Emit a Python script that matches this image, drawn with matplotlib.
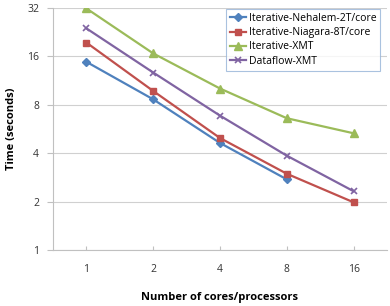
import numpy as np
import matplotlib.pyplot as plt

cores = ["1", "2", "4", "8", "16"]
nehalem = [14.8, 8.65, 4.63, 2.75]
niagara = [19.5, 9.75, 4.97, 2.98, 1.98]
xmt = [31.8, 16.7, 10.1, 6.6, 5.32]
dataflow = [23.9, 12.7, 6.85, 3.86, 2.32]
yticks = [1, 2, 4, 8, 16, 32]

plt.rcParams['font.family'] = ['Open Sans', 'DejaVu Sans']

fig = plt.figure(figsize=(3.9, 3.06), dpi=100)
ax = fig.add_axes([53 / 390, 56 / 306, 334 / 390, 242 / 306])

x = np.arange(len(cores))
ax.plot(x[:len(nehalem)], nehalem, color="#4F81BD", marker="D", markersize=4,
        linewidth=1.6, label="Iterative-Nehalem-2T/core")
ax.plot(x, niagara, color="#C0504D", marker="s", markersize=5,
        linewidth=1.6, label="Iterative-Niagara-8T/core")
ax.plot(x, xmt, color="#9BBB59", marker="^", markersize=5.5,
        linewidth=1.6, label="Iterative-XMT")
ax.plot(x, dataflow, color="#8064A2", marker="x", markersize=5,
        markeredgewidth=1.2, linewidth=1.6, label="Dataflow-XMT")

ax.set_yscale("log", base=2)
ax.set_ylim(1, 32)
ax.set_yticks(yticks)
ax.set_yticklabels([str(v) for v in yticks], fontsize=7.5, color="#333333")
ax.minorticks_off()
ax.set_xlim(-0.5, len(cores) - 0.5)
ax.set_xticks(x)
ax.set_xticklabels(cores, fontsize=7.5, color="#333333")

ax.grid(axis="y", color="#d0d0d0", linewidth=0.8)
ax.set_axisbelow(True)
for s in ["top", "right"]:
    ax.spines[s].set_visible(False)
for s in ["left", "bottom"]:
    ax.spines[s].set_color("#c0c0c0")
ax.tick_params(axis="y", length=4, color="#c0c0c0", pad=6)
ax.tick_params(axis="x", direction="in", length=3, color="#c0c0c0", pad=10)

ax.set_ylabel("Time (seconds)", fontsize=8, fontweight="bold")
ax.yaxis.set_label_coords(-0.108, 0.5)
ax.set_xlabel("Number of cores/processors", fontsize=8, fontweight="bold", labelpad=12)

leg = ax.legend(loc="upper right", bbox_to_anchor=(0.98, 0.996), fontsize=7.5,
                frameon=True, fancybox=False, handlelength=1.6, handletextpad=0.2,
                borderpad=0.4, labelspacing=0.3, borderaxespad=0.0)
leg.get_frame().set_edgecolor("#95B3D7")
leg.get_frame().set_linewidth(0.8)

fig.savefig("out.png", dpi=100)
